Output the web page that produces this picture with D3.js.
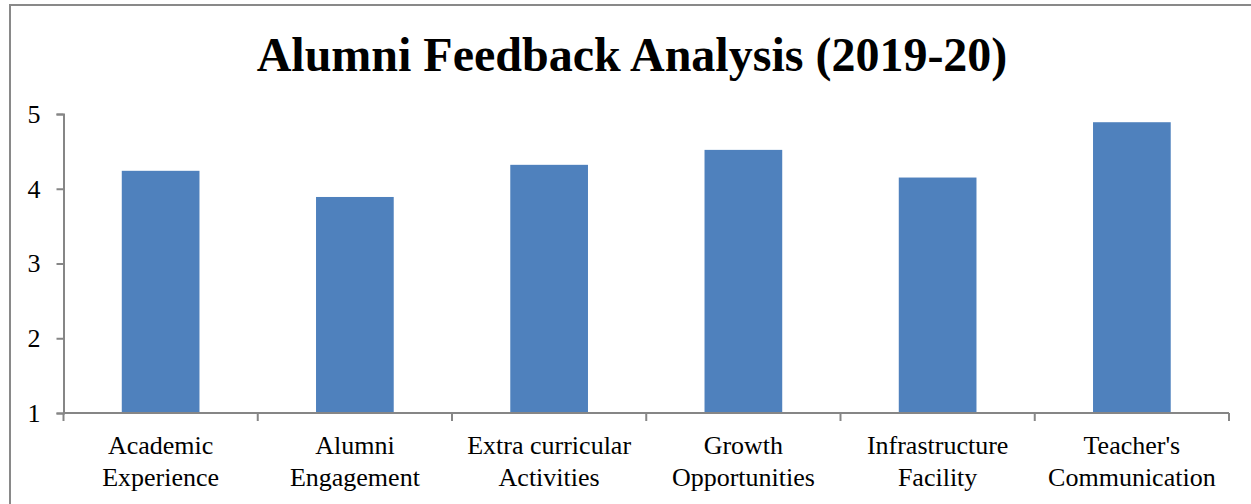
<!DOCTYPE html>
<html>
<head>
<meta charset="utf-8">
<script src="https://cdn.jsdelivr.net/npm/d3@7"></script>
<style>
  body { margin: 0; background: #fff; }
  svg { display: block; }
  text { font-family: "Liberation Serif", "Times New Roman", serif; fill: #000; }
</style>
</head>
<body>
<div id="chart"></div>
<script>
var width = 1251, height = 504;
var serif = "'Liberation Serif', 'Times New Roman', serif";

// chart data
var categories = [
  ["Academic", "Experience"],
  ["Alumni", "Engagement"],
  ["Extra curricular", "Activities"],
  ["Growth", "Opportunities"],
  ["Infrastructure", "Facility"],
  ["Teacher's", "Communication"]
];
var scores = [4.24, 3.89, 4.32, 4.52, 4.15, 4.89];
var yTicks = [1, 2, 3, 4, 5];
var title = "Alumni Feedback Analysis (2019-20)";

var margin = {top: 114, right: 22, bottom: 91, left: 63.5};
var plotW = width - margin.left - margin.right,
    plotH = height - margin.top - margin.bottom;

var svg = d3.select("#chart").append("svg")
    .attr("width", width)
    .attr("height", height);

// outer frame
svg.append("rect")
    .attr("x", 10)
    .attr("y", 5)
    .attr("width", 1270)
    .attr("height", 540)
    .attr("fill", "none")
    .attr("stroke", "#898989")
    .attr("stroke-width", 2);

svg.append("text")
    .attr("x", 632)
    .attr("y", 71)
    .attr("text-anchor", "middle")
    .attr("font-family", serif)
    .style("font-size", "48px")
    .style("font-weight", "bold")
    .text(title);

var g = svg.append("g")
    .attr("transform", "translate(" + margin.left + "," + margin.top + ")");

var idx = categories.map(function(d, i) { return i; });

var x = d3.scaleBand()
    .domain(idx)
    .range([0, plotW])
    .paddingInner(0.6)
    .paddingOuter(0.3);

var y = d3.scaleLinear()
    .domain([1, 5])
    .range([plotH, 0]);

g.selectAll("rect.bar")
    .data(scores)
    .enter().append("rect")
    .attr("class", "bar")
    .attr("x", function(d, i) { return x(i); })
    .attr("y", d => y(d))
    .attr("width", x.bandwidth())
    .attr("height", d => plotH - y(d))
    .attr("fill", "#4F81BD");

// y axis
var yAxis = g.append("g")
    .call(d3.axisLeft(y).tickValues(yTicks).tickSize(7).tickPadding(16).tickFormat(d3.format("d")))
    .attr("font-family", serif);
yAxis.select(".domain").attr("stroke", "#868686").attr("stroke-width", 2);
yAxis.selectAll(".tick line").attr("stroke", "#868686").attr("stroke-width", 2);
yAxis.selectAll(".tick text")
    .style("font-size", "26px")
    .style("font-family", serif);

// x axis with ticks on category boundaries
var edges = d3.range(categories.length + 1).map(i => i * plotW / categories.length);
var xg = g.append("g").attr("transform", "translate(0," + plotH + ")");
xg.append("line")
    .attr("x1", 0).attr("x2", plotW)
    .attr("stroke", "#868686").attr("stroke-width", 2);
xg.selectAll("line.tk")
    .data(edges)
    .enter().append("line")
    .attr("class", "tk")
    .attr("x1", d => d).attr("x2", d => d)
    .attr("y1", 0).attr("y2", 8)
    .attr("stroke", "#868686").attr("stroke-width", 2);

var labels = xg.selectAll("text.cat")
    .data(categories)
    .enter().append("text")
    .attr("class", "cat")
    .attr("text-anchor", "middle")
    .attr("font-family", serif)
    .attr("transform", function(d, i) { return "translate(" + (x(i) + x.bandwidth() / 2) + ",0)"; })
    .style("font-family", serif)
    .style("font-size", "26px");

labels.selectAll("tspan")
    .data(d => d)
    .enter().append("tspan")
    .attr("x", 0)
    .attr("y", (d, i) => 41 + i * 32)
    .text(d => d);
</script>
</body>
</html>
